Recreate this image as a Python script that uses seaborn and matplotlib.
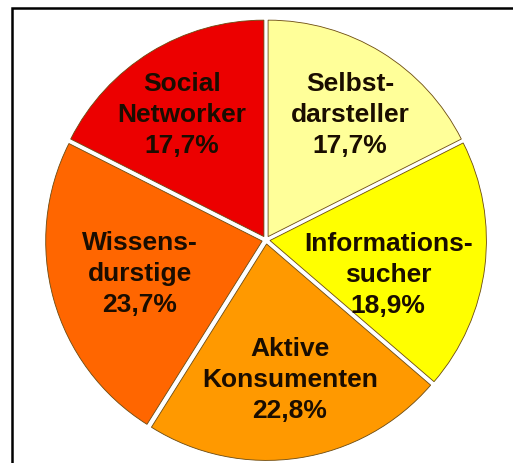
import matplotlib
matplotlib.use("Agg")
import matplotlib.pyplot as plt
import seaborn as sns
import numpy as np
from matplotlib.patches import Rectangle

# Data (clockwise from 12 o'clock)
categories = ["Selbst-\ndarsteller", "Informations-\nsucher", "Aktive\nKonsumenten",
              "Wissens-\ndurstige", "Social\nNetworker"]
values = [17.7, 18.9, 22.8, 23.7, 17.7]
colors = ["#FFFF99", "#FFFF00", "#FF9900", "#FF6600", "#EC0000"]

# label placement (axes data units, layout only)
label_xy = [(0.378, 0.563), (0.55, -0.158), (0.108, -0.63), (-0.568, -0.153), (-0.378, 0.563)]

sns.set_theme(style="white")
plt.rcParams['font.family'] = ['Liberation Sans', 'DejaVu Sans']

fig = plt.figure(figsize=(5.13, 4.63), dpi=100)
fig.patch.set_facecolor("white")

# frame (left and top visible, extends beyond right/bottom)
fig.add_artist(Rectangle((12/513, -0.1), 1.2, (463-8)/463 + 0.1,
                         transform=fig.transFigure, fill=False,
                         edgecolor="black", linewidth=1.8))

cx, cy, r = 266, 240, 222
ax = fig.add_axes([(cx - r)/513, (463 - cy - r)/463, 2*r/513, 2*r/463])
ax.set_facecolor("none")

labels = [f"{c}\n{str(v).replace('.', ',')}%" for c, v in zip(categories, values)]

wedges, texts = ax.pie(values, colors=colors, startangle=90, counterclock=False,
                       explode=[0.018]*5, radius=0.975,
                       labels=labels, labeldistance=0.65,
                       wedgeprops=dict(edgecolor="#6b4a10", linewidth=0.6),
                       textprops=dict(fontsize=19, fontweight="bold", color="#1a0d00",
                                      linespacing=1.35))
for t, xy in zip(texts, label_xy):
    t.set_ha("center")
    t.set_va("center")
    t.set_position(xy)
ax.set_xlim(-1, 1)
ax.set_ylim(-1, 1)
ax.set_aspect("equal")
ax.axis("off")

fig.savefig("out.png", dpi=100, facecolor="white")
